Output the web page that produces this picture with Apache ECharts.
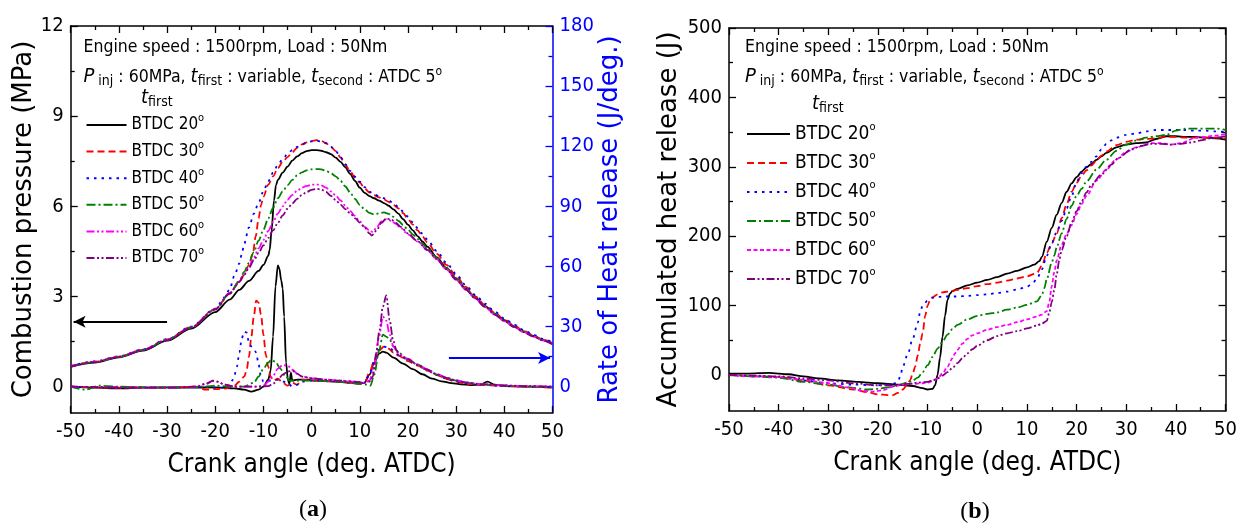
<!DOCTYPE html>
<html>
<head>
<meta charset="utf-8">
<script src="https://cdn.jsdelivr.net/npm/echarts@6/dist/echarts.min.js"></script>
<style>
  html, body { margin: 0; padding: 0; background: #fff; }
  #chart { width: 1240px; height: 527px; }
</style>
</head>
<body>
<div id="chart"></div>
<script>
// first injection timing cases (BTDC deg)
const cases = ['20', '30', '40', '50', '60', '70'];

// (a) combustion pressure, MPa  [crank angle, value]
const p20 = [[-50,0.66],[-45,0.8],[-40,0.98],[-35,1.2],[-30,1.53],[-25,1.93],[-20,2.48],[-17,2.9],[-15,3.22],[-13,3.52],[-11,3.85],[-10,4.05],[-9,4.35],[-8.7,4.55],[-8.3,5.2],[-7.8,6.2],[-7.4,6.7],[-7,6.88],[-6,7.12],[-5,7.32],[-4,7.52],[-3,7.66],[-2,7.77],[-1,7.84],[0,7.87],[1,7.87],[2,7.85],[3,7.8],[4,7.74],[5,7.62],[6,7.48],[7,7.3],[8,7.08],[9,6.85],[10,6.62],[11,6.45],[12,6.34],[13,6.27],[14,6.19],[15,6.11],[16,6.02],[17,5.9],[18,5.76],[19,5.57],[20,5.39],[21,5.2],[22,5.01],[23,4.83],[24,4.66],[26,4.3],[28,3.95],[30,3.6],[32,3.26],[34,2.96],[36,2.68],[38,2.43],[40,2.21],[42,2.01],[44,1.84],[46,1.69],[48,1.55],[50,1.42]];
const p30 = [[-50,0.68],[-45,0.83],[-40,1.0],[-35,1.23],[-30,1.57],[-25,1.98],[-20,2.58],[-17,3.1],[-15,3.48],[-14,3.72],[-13,4.05],[-12.2,4.44],[-11.6,5.0],[-11,5.6],[-10.5,6.04],[-10,6.32],[-9,6.72],[-8,7.0],[-7,7.27],[-6,7.48],[-5,7.64],[-4,7.8],[-3,7.95],[-2,8.06],[-1,8.13],[0,8.17],[1,8.2],[2,8.18],[3,8.1],[4,7.98],[5,7.84],[6,7.63],[7,7.39],[8,7.16],[9,6.96],[10,6.79],[11,6.6],[12,6.46],[13,6.37],[14,6.3],[15,6.23],[16,6.15],[17,6.05],[18,5.93],[19,5.77],[20,5.59],[21,5.39],[22,5.2],[23,5.0],[24,4.8],[26,4.42],[28,4.05],[30,3.68],[32,3.32],[34,3.0],[36,2.72],[38,2.46],[40,2.24],[42,2.04],[44,1.86],[46,1.71],[48,1.57],[50,1.45]];
const p40 = [[-50,0.69],[-45,0.84],[-40,1.01],[-35,1.24],[-30,1.58],[-25,2.0],[-20,2.6],[-18,2.98],[-17,3.25],[-16,3.7],[-15,4.1],[-14.5,4.4],[-14,4.75],[-13,5.3],[-12,5.75],[-11,6.12],[-10,6.5],[-9,6.84],[-8,7.12],[-7,7.38],[-6,7.58],[-5,7.74],[-4,7.87],[-3,7.98],[-2,8.06],[-1,8.12],[0,8.16],[1,8.18],[2,8.16],[3,8.1],[4,7.98],[5,7.84],[6,7.64],[7,7.4],[8,7.18],[9,6.99],[10,6.82],[11,6.64],[12,6.49],[13,6.4],[14,6.33],[15,6.27],[16,6.2],[17,6.1],[18,5.98],[19,5.83],[20,5.66],[21,5.47],[22,5.28],[23,5.09],[24,4.9],[26,4.51],[28,4.12],[30,3.75],[32,3.38],[34,3.05],[36,2.76],[38,2.5],[40,2.27],[42,2.07],[44,1.89],[46,1.73],[48,1.59],[50,1.47]];
const p50 = [[-50,0.67],[-45,0.82],[-40,0.99],[-35,1.22],[-30,1.56],[-25,1.97],[-20,2.57],[-17,3.1],[-15,3.52],[-14,3.82],[-13,4.12],[-12,4.48],[-11,4.86],[-10,5.22],[-9,5.6],[-8,5.95],[-7,6.27],[-6,6.5],[-5,6.7],[-4,6.88],[-3,7.03],[-2,7.13],[-1,7.2],[0,7.23],[1,7.24],[2,7.23],[3,7.18],[4,7.1],[5,7.0],[6,6.85],[7,6.66],[8,6.46],[9,6.25],[10,6.05],[11,5.9],[12,5.78],[13,5.73],[14,5.77],[15,5.8],[16,5.75],[17,5.65],[18,5.52],[19,5.38],[20,5.22],[21,5.07],[22,4.92],[23,4.76],[24,4.6],[26,4.28],[28,3.94],[30,3.6],[32,3.26],[34,2.95],[36,2.67],[38,2.42],[40,2.2],[42,2.0],[44,1.83],[46,1.68],[48,1.55],[50,1.42]];
const p60 = [[-50,0.68],[-45,0.83],[-40,1.0],[-35,1.23],[-30,1.56],[-25,1.98],[-20,2.58],[-17,3.12],[-15,3.5],[-14,3.75],[-13,4.0],[-12,4.3],[-11,4.6],[-10,4.88],[-9,5.18],[-8,5.48],[-7,5.76],[-6,6.0],[-5,6.22],[-4,6.38],[-3,6.52],[-2,6.62],[-1,6.68],[0,6.72],[1,6.73],[2,6.7],[3,6.62],[4,6.5],[5,6.36],[6,6.2],[7,6.02],[8,5.85],[9,5.68],[10,5.5],[11,5.32],[12,5.2],[12.7,5.15],[13.5,5.3],[14.5,5.5],[15.5,5.57],[16.5,5.52],[17.5,5.42],[18.5,5.28],[20,5.07],[22,4.83],[24,4.55],[26,4.24],[28,3.9],[30,3.56],[32,3.23],[34,2.93],[36,2.65],[38,2.4],[40,2.18],[42,1.99],[44,1.82],[46,1.67],[48,1.54],[50,1.41]];
const p70 = [[-50,0.67],[-45,0.82],[-40,0.99],[-35,1.22],[-30,1.55],[-25,1.97],[-20,2.57],[-17,3.1],[-15,3.48],[-14,3.72],[-13,3.95],[-12,4.2],[-11,4.45],[-10,4.7],[-9,4.95],[-8,5.2],[-7,5.45],[-6,5.7],[-5,5.92],[-4,6.1],[-3,6.25],[-2,6.38],[-1,6.48],[0,6.55],[1,6.58],[2,6.56],[3,6.48],[4,6.35],[5,6.21],[6,6.06],[7,5.91],[8,5.77],[9,5.61],[10,5.46],[11,5.3],[12,5.1],[12.5,5.03],[13.5,5.2],[14.5,5.45],[15.5,5.6],[16.5,5.56],[17.5,5.45],[18.5,5.32],[20,5.1],[22,4.84],[24,4.55],[26,4.24],[28,3.9],[30,3.56],[32,3.23],[34,2.93],[36,2.65],[38,2.4],[40,2.18],[42,1.99],[44,1.82],[46,1.67],[48,1.54],[50,1.41]];

// (a) rate of heat release, J/deg
const r20 = [[-50,0],[-45,-0.5],[-40,-0.8],[-35,-0.5],[-30,-0.3],[-25,-0.5],[-20,-0.3],[-16,-0.8],[-14,-1.5],[-12.5,-2.5],[-11,-1.5],[-10,0],[-9,3.5],[-8.5,8],[-8,25],[-7.5,50],[-7,60.5],[-6.7,59],[-6.3,53],[-6,49],[-5.7,35],[-5.3,12],[-4.9,3],[-4.6,1.5],[-4.3,7],[-4,3],[-3,3.5],[-1,3.5],[0,3.2],[2,3],[4,2.7],[6,2.4],[8,2],[10,1.5],[11,2],[12,6],[13,12],[14,16.5],[14.8,17.5],[15.5,17],[17,14.5],[19,11.5],[21,8.8],[23,6.2],[25,4],[27,2.7],[29,1.8],[31,1.2],[33,0.8],[35,1],[36.5,2.5],[38,1],[40,0.3],[45,0],[50,-0.3]];
const r30 = [[-50,0],[-40,-0.5],[-30,-0.5],[-24,0],[-22,-1.5],[-20,-1.2],[-18,-1],[-16,0.5],[-15,2.5],[-14,5],[-13.5,8],[-13,15],[-12.5,25],[-12,35],[-11.5,43],[-11,42],[-10.5,36],[-10,26],[-9.5,16],[-9,10],[-8.5,5],[-8,3],[-7,4],[-6,2],[-5,0.5],[-4,2],[-3,1],[-2,3.5],[0,3],[2,3],[4,2.8],[6,2.4],[8,2],[10,1.5],[11,2],[12,7],[13,13],[14,18],[15,20],[16,19],[17,17],[18,15.5],[20,12.8],[22,10.5],[24,8],[26,5.8],[28,3.8],[30,2.5],[32,1.5],[34,1],[36,0.8],[40,0.3],[45,0],[50,-0.5]];
const r40 = [[-50,0],[-40,-0.3],[-30,-0.5],[-22,0],[-20,-0.5],[-18,-0.5],[-17,0],[-16.5,3],[-16,6],[-15.5,10],[-15,17],[-14.5,24],[-14,27.5],[-13.5,27],[-13,22],[-12.5,20],[-12,19],[-11.5,17],[-11,11],[-10.5,5],[-10,2.5],[-9,3],[-7,3.5],[-5,2],[-4,0],[-3,1],[-2,2.5],[0,3],[2,3],[4,2.8],[6,2.4],[8,2],[10,1.5],[11,2],[12,6],[13,13],[14,18.5],[15,20],[16,19.5],[18,16],[20,13.3],[22,11],[24,8.3],[26,6],[28,4],[30,2.7],[32,1.7],[35,1],[40,0.3],[50,-0.2]];
const r50 = [[-50,0],[-47,-1.5],[-44,0.5],[-40,0],[-30,-0.5],[-22,0],[-20,0.5],[-17,0],[-14,0],[-12,2],[-11,5],[-10,9],[-9,12],[-8.4,13.3],[-7.5,12.5],[-6.5,9],[-5.5,5.5],[-4.5,3],[-3,3],[0,3],[5,2.5],[10,1.5],[11.5,1],[12.2,0.5],[13,6],[14,18],[14.8,26],[15.5,25],[16.2,23.5],[17,20],[18,17],[20,13.5],[22,11],[24,8.5],[26,6],[28,4.2],[30,3],[32,2],[35,1.2],[40,0.5],[45,0],[50,-0.3]];
const r60 = [[-50,0],[-40,-0.3],[-30,-0.5],[-24,0],[-22,1.2],[-20.5,2.8],[-19.5,2.5],[-18,1],[-16,0],[-13,0],[-11,0],[-9.8,0.8],[-9,2.5],[-8,5.5],[-7,9],[-6,10.8],[-5,10.5],[-4,8.5],[-3,6.5],[-2,5.2],[0,4.2],[3,3.5],[6,3],[9,2.5],[11,2],[12,3],[13,10],[14,25],[14.8,35],[15.5,33],[16.2,26],[17,20],[18,16.5],[20,14],[22,11],[24,8.7],[26,6.3],[28,4.5],[30,3.2],[32,2.2],[35,1.3],[40,0.6],[45,0.3],[50,0]];
const r70 = [[-50,0],[-40,-0.3],[-30,-0.5],[-24,0],[-22,1.5],[-20.5,3],[-19.5,2.5],[-18,1],[-16,0],[-12,0],[-9,0.3],[-8,1.5],[-7,3.5],[-6,6],[-5,7.5],[-4,8],[-3,6.5],[-2,5],[0,4.2],[3,3.5],[6,3],[9,2.5],[11,2],[12,2.5],[12.7,5],[13.4,16.7],[14.1,28.3],[14.8,40],[15.5,45.5],[16.2,33.3],[16.9,23.3],[17.6,18.3],[18.6,15],[20,13.8],[22,11],[24,8.5],[26,6.2],[28,4.4],[30,3.1],[32,2.1],[35,1.3],[40,0.6],[45,0.3],[50,0]];

// (b) accumulated heat release, J
const q20 = [[-50,2],[-46,2],[-42,3],[-38,1],[-35,-2],[-32,-5],[-28,-8],[-24,-10],[-20,-12],[-16,-14],[-13,-16],[-11,-19],[-10,-21],[-9,-20],[-8.5,-15],[-8,0],[-7.5,25],[-7,55],[-6.5,85],[-6,108],[-5.5,117],[-5,121],[-4,124],[-2,129],[0,133],[2,137],[4,141],[6,146],[8,150],[10,155],[11.5,159],[12.5,164],[13,170],[14,192],[15,212],[16,231],[17,248],[18,264],[19,276],[20,285],[21,293],[22,299],[23,304],[24,310],[25,315],[26,320],[28,328],[30,332],[32,334],[34,335],[36,340],[38,344],[40,344],[42,343],[44,343],[46,342],[48,341],[50,339]];
const q30 = [[-50,0],[-45,-2],[-40,-3],[-35,-8],[-30,-15],[-25,-21],[-22,-25],[-20,-28],[-18,-29],[-17,-29],[-16,-26],[-15,-21],[-14,-13],[-13.5,-7],[-13,2],[-12.5,12],[-12,28],[-11.5,45],[-11,60],[-10.5,85],[-10,100],[-9.5,108],[-9,112],[-8,116],[-7,119],[-6,120],[-4,122.5],[-2,125],[0,128],[2,131],[4,133],[6,136],[8,139],[10,142],[12,147],[13,157],[14,176],[15,190],[16,204],[17,226],[18,246],[19,264],[20,277],[21,287],[22,295],[23,302],[24,309],[25,316],[26,322],[28,331],[30,336],[32,339],[34,340],[36,341],[38,343],[40,343],[42,342],[44,342],[46,342],[48,342],[50,341]];
const q40 = [[-50,0],[-45,-2],[-40,-3],[-35,-8],[-30,-12],[-25,-14],[-20,-15],[-17,-13],[-16,-10],[-15.5,-2],[-15,12],[-14,30],[-13,52],[-12,75],[-11.5,91],[-11,100],[-10,107],[-9,111],[-7,113],[-4,113],[-2,114],[0,115],[2,116],[4,118],[6,120],[8,123],[10,127],[11,131],[12,138],[13,152],[14,172],[15,190],[16,206],[17,222],[18,240],[19,258],[20,278],[21,291],[22,300],[23,307],[24,315],[25,325],[26,333],[27,338],[28,342],[30,346],[32,348],[34,351],[36,353],[38,353],[40,353],[42,353],[44,352],[46,352],[48,351],[50,350]];
const q50 = [[-50,0],[-45,-2],[-40,-4],[-35,-10],[-30,-14],[-26,-18],[-22,-21],[-20,-20],[-18,-18],[-16,-15],[-14,-11],[-13,-8],[-12,-4],[-11,4],[-10,14],[-9,26],[-8,38],[-7,48],[-6,58],[-5,66],[-4,72],[-2,80],[0,85],[2,88],[4,90],[6,94],[8,97],[10,101],[12,106],[13,115],[13.5,125],[14,138],[15,162],[15.5,172],[16,184],[17,204],[18,225],[19,244],[20,258],[21,268],[22,279],[24,296],[26,310],[28,323],[30,332],[32,338],[34,342],[36,344],[38,346],[40,352],[42,355],[44,355],[46,355],[48,355],[50,353]];
const q60 = [[-50,0],[-45,-2],[-40,-3],[-35,-7],[-30,-12],[-26,-18],[-23,-23],[-21,-24],[-19,-22],[-17,-17],[-15,-14],[-13,-13],[-11,-12],[-10,-11],[-9,-9],[-8,-5],[-7,2],[-6,12],[-5,24],[-4.5,31],[-4,36],[-3,45],[-2,52],[-1,57],[0,60],[2,65],[4,69],[6,72],[8,76],[10,80],[12,84],[13,87],[14,92],[14.5,105],[15,128],[15.5,148],[16,165],[17,188],[18,203],[19,216],[20,232],[21,246],[22,258],[24,280],[26,296],[28,311],[30,321],[32,328],[35,334],[37,334],[39,332],[41,334],[44,342],[46,343],[48,345],[50,347]];
const q70 = [[-50,0],[-45,-1],[-40,-2],[-35,-5],[-30,-8],[-25,-12],[-20,-15],[-17,-15],[-14,-13],[-12,-11],[-10,-10],[-9,-8],[-8,-5],[-7,-1],[-6,4],[-5,10],[-4,17],[-3,24],[-2,31],[-1,37],[0,42],[2,50],[4,56],[6,60],[8,63],[10,67],[12,71],[13,74],[14,78],[14.5,90],[15,105],[15.5,122],[16,145],[16.5,165],[17,180],[18,200],[19,220],[20,236],[21,250],[22,263],[23,274],[25,289],[27,303],[28.5,313],[31,325],[33,330],[35,333],[37,333],[39,332],[41,333],[43,335],[45,338],[47,341],[50,344]];

const pressureLabels = [0, 3, 6, 9, 12];
const pressureMinor = [1.5, 4.5, 7.5, 10.5];
const hrrLabels = [0, 30, 60, 90, 120, 150, 180];
const hrrMinor = [15, 45, 75, 105, 135, 165];
const ahrLabels = [0, 100, 200, 300, 400, 500];
const ahrMinor = [50, 150, 250, 350, 450];

const pressure = [p20, p30, p40, p50, p60, p70];
const hrr = [r20, r30, r40, r50, r60, r70];
const ahr = [q20, q30, q40, q50, q60, q70];

// styles
const colors = ['#000000', '#ff0000', '#0000ff', '#008000', '#ff00ff', '#800080'];
const dashA = ['solid', [7, 4], [2.5, 5], [9, 3, 2, 3], [8, 2.5, 2, 2.5, 2, 2.5], [8, 2.5, 2, 2.5, 2, 2.5]];
const dashB = ['solid', [7, 4], [2.5, 5], [9, 3, 2, 3], [4, 2.5], [8, 2.5, 2, 2.5, 2, 2.5]];

const F = "'DejaVu Sans Condensed', 'DejaVu Sans', sans-serif";
const W = "'DejaVu Sans', Verdana, sans-serif";
const BLUE = '#0000ff';

const chart = echarts.init(document.getElementById('chart'));

function xAxis(grid, pos, labels) {
  return {
    type: 'value', gridIndex: grid, position: pos, min: -50, max: 50, interval: 10,
    axisLine: { show: true, onZero: false, lineStyle: { color: '#000', width: 1.5 } },
    axisTick: { show: true, inside: true, length: 7, lineStyle: { color: '#000', width: 1.3 } },
    minorTick: { show: true, splitNumber: 2, length: 4, lineStyle: { color: '#000', width: 1.3 } },
    axisLabel: { show: labels, color: '#000', fontFamily: F, fontSize: 20, margin: 9 },
    splitLine: { show: false },
    name: labels ? 'Crank angle (deg. ATDC)' : '',
    nameLocation: 'middle', nameGap: 39,
    nameTextStyle: { fontFamily: F, fontSize: 26, color: '#000' }
  };
}

function yAxis(grid, pos, min, max, ticks, len, color, labels, showLine) {
  return {
    type: 'value', gridIndex: grid, position: pos, min: min, max: max,
    axisLine: { show: showLine, onZero: false, lineStyle: { color: color, width: 1.5 } },
    axisTick: { show: true, inside: true, length: len, customValues: ticks, lineStyle: { color: color, width: 1.3 } },
    axisLabel: labels ? { show: true, customValues: labels, color: color, fontFamily: F, fontSize: 20, margin: 7 } : { show: false },
    splitLine: { show: false }
  };
}

const yAxes = [
  Object.assign(yAxis(0, 'left', -0.875, 12, pressureLabels, 7, '#000', pressureLabels, true), {
    name: 'Combustion pressure (MPa)', nameLocation: 'middle', nameGap: 31, nameRotate: 90,
    nameTextStyle: { fontFamily: W, fontSize: 26, color: '#000' }
  }),
  Object.assign(yAxis(0, 'right', -13.125, 180, hrrLabels, 7, BLUE, hrrLabels, true), {
    name: 'Rate of Heat release (J/deg.)', nameLocation: 'middle', nameGap: 37, nameRotate: 90,
    nameTextStyle: { fontFamily: W, fontSize: 26, color: BLUE }
  }),
  yAxis(0, 'left', -0.875, 12, pressureMinor, 4, '#000', null, false),
  yAxis(0, 'right', -13.125, 180, hrrMinor, 4, BLUE, null, false),
  Object.assign(yAxis(1, 'left', -52, 500, ahrLabels, 7, '#000', ahrLabels, true), {
    name: 'Accumulated heat release (J)', nameLocation: 'middle', nameGap: 47, nameRotate: 90,
    nameTextStyle: { fontFamily: W, fontSize: 26, color: '#000' }
  }),
  yAxis(1, 'right', -52, 500, ahrLabels, 7, '#000', null, true),
  yAxis(1, 'left', -52, 500, ahrMinor, 4, '#000', null, false),
  yAxis(1, 'right', -52, 500, ahrMinor, 4, '#000', null, false)
];

function line(name, data, xi, yi, color, type) {
  return {
    name: name, type: 'line', xAxisIndex: xi, yAxisIndex: yi, data: data,
    symbol: 'none', smooth: 0.3, smoothMonotone: 'x',
    lineStyle: { color: color, width: 1.8, type: type },
    itemStyle: { color: color }
  };
}

const series = [];
cases.forEach(function (c, i) {
  series.push(line('a' + c, pressure[i], 0, 0, colors[i], dashA[i]));
});
cases.forEach(function (c, i) {
  series.push(line('a' + c, hrr[i], 0, 1, colors[i], dashA[i]));
});
cases.forEach(function (c, i) {
  series.push(line('b' + c, ahr[i], 2, 4, colors[i], dashB[i]));
});

// arrows telling which axis each curve family belongs to
series[0].markLine = {
  silent: true, symbol: ['arrow', 'none'], symbolSize: [9, 12], label: { show: false },
  lineStyle: { color: '#000', type: 'solid', width: 1.8 },
  data: [[{ coord: [-49.4, 2.16] }, { coord: [-30, 2.16] }]]
};
series[6].markLine = {
  silent: true, symbol: ['none', 'arrow'], symbolSize: [9, 12], label: { show: false },
  lineStyle: { color: BLUE, type: 'solid', width: 1.8 },
  data: [[{ coord: [28.5, 14.3] }, { coord: [49.5, 14.3] }]]
};

const rich = {
  it: { fontFamily: F, fontStyle: 'italic', fontSize: 20, lineHeight: 22 },
  sub: { fontFamily: F, fontSize: 14, lineHeight: 14, verticalAlign: 'bottom' },
  sup: { fontFamily: F, fontSize: 12, lineHeight: 12, verticalAlign: 'top' }
};
function note(x, y, text) {
  return {
    type: 'text',
    style: { x: x, y: y, text: text, fontFamily: F, fontSize: 17.5, lineHeight: 22, fill: '#000',
      align: 'left', verticalAlign: 'middle', rich: rich }
  };
}
const line1 = 'Engine speed : 1500rpm, Load : 50Nm';
const line2 = '{it|P}{sub| inj} : 60MPa, {it|t}{sub|first} : variable, {it|t}{sub|second} : ATDC 5{sup|o}';
const tFirst = '{it|t}{sub|first}';

function legend(prefix, left, top, width, size, gap) {
  return {
    data: cases.map(function (c) { return prefix + c; }),
    orient: 'vertical', left: left, top: top, itemWidth: width, itemHeight: 14, itemGap: gap,
    selectedMode: false,
    itemStyle: { opacity: 0, borderWidth: 0 },
    formatter: function (n) { return 'BTDC ' + n.slice(1) + '{sup|o}'; },
    textStyle: {
      fontFamily: F, fontSize: size, lineHeight: 24, color: '#000',
      rich: { sup: { fontFamily: F, fontSize: 11, lineHeight: 11, verticalAlign: 'top' } }
    }
  };
}

chart.setOption({
  animation: false,
  backgroundColor: '#fff',
  textStyle: { fontFamily: F },
  grid: [
    { left: 70.7, right: 687.5, top: 26, bottom: 114 },
    { left: 729, right: 11, top: 28, bottom: 116 }
  ],
  xAxis: [xAxis(0, 'bottom', true), xAxis(0, 'top', false), xAxis(1, 'bottom', true), xAxis(1, 'top', false)],
  yAxis: yAxes,
  legend: [
    legend('a', 80.5, 108, 40, 17, 2.6),
    legend('b', 741, 117, 43, 19, 5)
  ],
  graphic: [
    note(83.5, 47, line1), note(83.5, 77, line2), note(141, 98, tFirst),
    note(745, 47, line1), note(745, 77, line2), note(812, 104, tFirst),
    { type: 'text', style: { x: 313, y: 510, text: '({b|a})', align: 'center', verticalAlign: 'middle',
      fontFamily: "'Liberation Serif', serif", fontSize: 24, fill: '#000',
      rich: { b: { fontFamily: "'Liberation Serif', serif", fontSize: 24, fontWeight: 'bold' } } } },
    { type: 'text', style: { x: 975, y: 512, text: '({b|b})', align: 'center', verticalAlign: 'middle',
      fontFamily: "'Liberation Serif', serif", fontSize: 24, fill: '#000',
      rich: { b: { fontFamily: "'Liberation Serif', serif", fontSize: 24, fontWeight: 'bold' } } } }
  ],
  series: series
});
</script>
</body>
</html>
